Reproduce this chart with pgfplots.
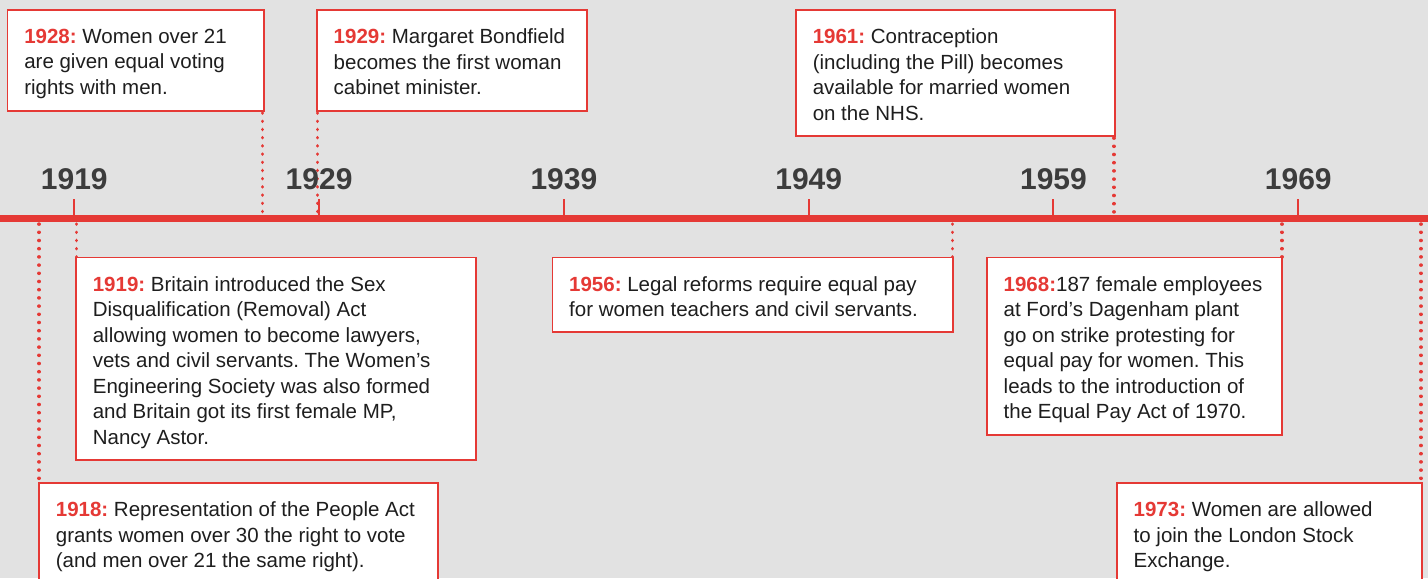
\documentclass[border=0pt]{standalone}
\usepackage{pgfplots}
\pgfplotsset{compat=1.18}
\usepackage{fontspec}
\setmainfont{Liberation Sans}
\frenchspacing

\definecolor{bg}{HTML}{E2E2E2}
\definecolor{tlred}{HTML}{E53935}
\definecolor{yeargrey}{HTML}{3C3C3C}
\definecolor{bodytext}{HTML}{1E1E1E}

% x: box left, y: box top, x: box right, y: box bottom, text x, text
\newcommand{\evbox}[6]{%
  \fill[white] (axis cs:#1,#2) rectangle (axis cs:#3,#4);
  \draw[tlred, line width=0.75pt] (axis cs:#1,#2) rectangle (axis cs:#3,#4);
  \node[anchor=north west, inner sep=0pt, align=left, text=bodytext,
        font=\fontsize{10.25}{12.75}\selectfont]
    at (axis cs:#5,{#2+18.5}) {#6};}
% open at the bottom (runs off the picture)
\newcommand{\evboxopen}[5]{%
  \fill[white] (axis cs:#1,#2) rectangle (axis cs:#3,580);
  \draw[tlred, line width=0.75pt] (axis cs:#1,580) -- (axis cs:#1,#2) -- (axis cs:#3,#2) -- (axis cs:#3,580);
  \node[anchor=north west, inner sep=0pt, align=left, text=bodytext,
        font=\fontsize{10.25}{12.75}\selectfont]
    at (axis cs:#4,{#2+18.5}) {#5};}
\newcommand{\yr}[1]{\textcolor{tlred}{\bfseries #1}}

\begin{document}
\begin{tikzpicture}
\begin{axis}[
  width=714pt, height=289pt, scale only axis,
  xmin=1915.964, xmax=1974.30,
  ymin=0, ymax=578, y dir=reverse,
  axis lines=none, ticks=none,
  unbounded coords=jump,
]
\fill[bg] (rel axis cs:0,0) rectangle (rel axis cs:1,1);

% dotted connectors (year position, from, to)
\addplot[tlred, line width=1.7pt, line cap=round, dash pattern=on 0.1pt off 4pt] coordinates {
  (1926.69,113) (1926.69,215) (1926.69,nan)
  (1928.93,113) (1928.93,215) (1928.93,nan)
  (1961.47,138) (1961.47,215) (1961.47,nan)
  (1919.08,224) (1919.08,257) (1919.08,nan)
  (1954.88,224) (1954.88,257) (1954.88,nan)
  (1968.33,224) (1968.33,257) (1968.33,nan)
  (1917.56,224) (1917.56,483) (1917.56,nan)
  (1974.01,224) (1974.01,483)
};

% timeline
\addplot[tlred, line width=3.5pt] coordinates {(1915.964,218.5) (1974.30,218.5)};

\pgfplotsinvokeforeach{1919,1929,1939,1949,1959,1969}{
  \addplot[tlred, line width=1pt] coordinates {(#1,199) (#1,216)};
  \node[anchor=base, text=yeargrey, font=\fontsize{15}{18}\selectfont\bfseries]
    at (axis cs:#1,189) {#1};
}

% events above the line
\evbox{1916.27}{10}{1926.75}{111}{1916.94}{\yr{1928:} Women over 21\\are given equal voting\\rights with men.}
\evbox{1928.91}{10}{1939.94}{111}{1929.58}{\yr{1929:} Margaret Bondfield\\becomes the first woman\\cabinet minister.}
\evbox{1948.48}{10}{1961.51}{136}{1949.15}{\yr{1961:} Contraception\\(including the Pill) becomes\\available for married women\\on the NHS.}

% events below the line
\evbox{1919.07}{257.3}{1935.41}{460}{1919.74}{\yr{1919:} Britain introduced the Sex\\Disqualification (Removal) Act\\allowing women to become lawyers,\\vets and civil servants. The Women’s\\Engineering Society was also formed\\and Britain got its first female MP,\\Nancy Astor.}
\evbox{1938.53}{257.3}{1954.90}{332}{1939.20}{\yr{1956:} Legal reforms require equal pay\\for women teachers and civil servants.}
\evbox{1956.28}{257.3}{1968.34}{435}{1956.95}{\yr{1968:}187 female employees\\at Ford’s Dagenham plant\\go on strike protesting for\\equal pay for women. This\\leads to the introduction of\\the Equal Pay Act of 1970.}
\evboxopen{1917.56}{483}{1933.86}{1918.23}{\yr{1918:} Representation of the People Act\\grants women over 30 the right to vote\\(and men over 21 the same right).}
\evboxopen{1961.59}{483}{1974.05}{1962.26}{\yr{1973:} Women are allowed\\to join the London Stock\\Exchange.}
\end{axis}
\end{tikzpicture}
\end{document}
